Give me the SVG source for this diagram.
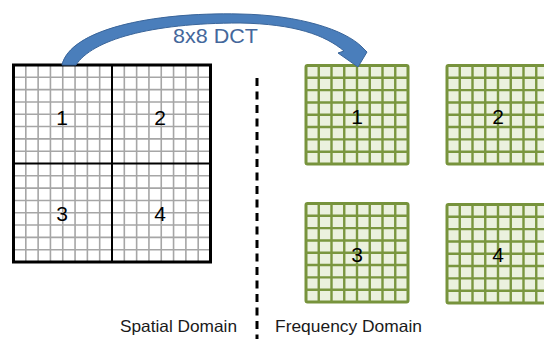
<svg xmlns="http://www.w3.org/2000/svg" xmlns:xlink="http://www.w3.org/1999/xlink" width="544" height="339" viewBox="0 0 544 339">
<style>
.num{font-family:"Liberation Sans",Arial,sans-serif;font-size:21px;fill:#000;text-anchor:middle}
.lab{font-family:"Liberation Sans",Arial,sans-serif;font-size:16.5px;fill:#1a1a1a}
.fine{stroke:#A6A6A6;stroke-width:1.6;fill:none}
.glines{stroke:#7A963F;stroke-width:2.4;fill:none}
</style>
<defs>
<g id="fblock">
<rect x="0" y="0" width="102" height="98.5" rx="1.5" fill="#EBF1DE" stroke="#77933C" stroke-width="3"/>
<path class="glines" d="M12.75 0V98.5M25.5 0V98.5M38.25 0V98.5M51 0V98.5M63.75 0V98.5M76.5 0V98.5M89.25 0V98.5M0 12.31H102M0 24.63H102M0 36.94H102M0 49.25H102M0 61.56H102M0 73.88H102M0 86.19H102"/>
</g>
</defs>
<rect width="544" height="339" fill="#fff"/>
<g id="spatial-block">
<path class="fine" d="M25.81 65V262M38.13 65V262M50.44 65V262M62.75 65V262M75.06 65V262M87.38 65V262M99.69 65V262M124.31 65V262M136.63 65V262M148.94 65V262M161.25 65V262M173.56 65V262M185.88 65V262M198.19 65V262M13.5 77.31H210.5M13.5 89.63H210.5M13.5 101.94H210.5M13.5 114.25H210.5M13.5 126.56H210.5M13.5 138.88H210.5M13.5 151.19H210.5M13.5 175.81H210.5M13.5 188.13H210.5M13.5 200.44H210.5M13.5 212.75H210.5M13.5 225.06H210.5M13.5 237.38H210.5M13.5 249.69H210.5"/>
<path d="M112 65V262M13.5 163.5H210.5" stroke="#000" stroke-width="2" fill="none"/>
<rect x="13.5" y="65" width="197" height="197" fill="none" stroke="#000" stroke-width="3"/>
<text class="num" x="62" y="125">1</text>
<text class="num" x="160" y="125">2</text>
<text class="num" x="62" y="221">3</text>
<text class="num" x="160" y="221">4</text>
</g>
<g id="freq-block-1">
<use xlink:href="#fblock" transform="translate(306,65.5)"/>
<text class="num" x="357" y="124">1</text>
</g>
<g id="freq-block-2">
<use xlink:href="#fblock" transform="translate(447,65.5)"/>
<text class="num" x="498" y="124">2</text>
</g>
<g id="freq-block-3">
<use xlink:href="#fblock" transform="translate(306,203.5)"/>
<text class="num" x="357" y="262">3</text>
</g>
<g id="freq-block-4">
<use xlink:href="#fblock" transform="translate(447,204.5)"/>
<text class="num" x="498" y="262">4</text>
</g>
<g id="divider">
<path d="M257 78V339" stroke="#000" stroke-width="3" stroke-dasharray="8 5.5" fill="none"/>
</g>
<g id="connectors">
<path id="dct-arrow" d="M62 65C70 30 150 12 240 14C300 15 345 30 362 47L367 52L358 67L338 53L344 51C325 35 295 24 240 23C150 23 92 40 76 65Z" fill="#4A7EBB" stroke="#3A659A" stroke-width="1" stroke-linejoin="round"/>
<text x="173" y="43" font-family="'Liberation Sans',Arial,sans-serif" font-size="21" fill="#44679B" textLength="85" lengthAdjust="spacingAndGlyphs">8x8 DCT</text>
</g>
<g id="labels">
<text class="lab" x="120" y="332" textLength="117" lengthAdjust="spacingAndGlyphs">Spatial Domain</text>
<text class="lab" x="275" y="332" textLength="147" lengthAdjust="spacingAndGlyphs">Frequency Domain</text>
</g>
</svg>
